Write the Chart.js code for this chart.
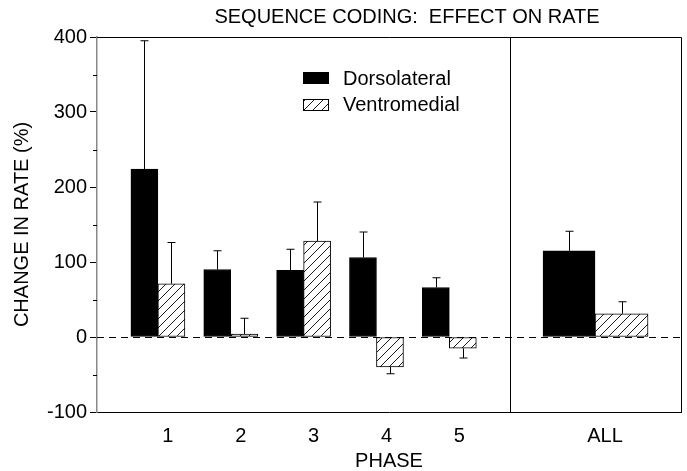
<!DOCTYPE html>
<html>
<head>
<meta charset="utf-8">
<script src="https://cdn.jsdelivr.net/npm/chart.js@4/dist/chart.umd.min.js"></script>
<style>
  html, body { margin: 0; padding: 0; background: #fff; }
  #wrap { width: 687px; height: 471px; }
</style>
</head>
<body>
<div id="wrap"><canvas id="chart"></canvas></div>
<script>
// values (% change in rate, mean + SEM)
const phaseLabels = ['1', '2', '3', '4', '5'];
const allLabel = 'ALL';
const dorsoPhase = [224, 90, 89, 106, 66];
const dorsoPhaseErr = [171, 25, 28, 34, 13];
const ventroPhase = [71, 4, 128, -40, -15];
const ventroPhaseErr = [55, 21, 52, 9, 13];
const dorsoAll = 115;
const dorsoAllErr = 26;
const ventroAll = 31;
const ventroAllErr = 16;
const yTicks = [-100, 0, 100, 200, 300, 400];

const FONT = 'Liberation Sans, Arial, sans-serif';
const allPos = phaseLabels.length + 2; // one empty slot before ALL

function hatch() {
  const c = document.createElement('canvas');
  c.width = 9; c.height = 9;
  const g = c.getContext('2d');
  g.fillStyle = '#fff';
  g.fillRect(0, 0, 9, 9);
  g.strokeStyle = '#000';
  g.lineWidth = 0.9;
  g.beginPath();
  g.moveTo(0, 9); g.lineTo(9, 0);
  g.moveTo(-1, 1); g.lineTo(1, -1);
  g.moveTo(8, 10); g.lineTo(10, 8);
  g.stroke();
  return g.createPattern(c, 'repeat');
}
const hatchFill = hatch();

// phase datasets leave ALL empty, ALL datasets leave phases empty
const phasePts = vals => vals.map((v, i) => ({ x: i + 1, y: v })).concat([{ x: allPos, y: null }]);
const allPts = v => phaseLabels.map((l, i) => ({ x: i + 1, y: null })).concat([{ x: allPos, y: v }]);

const extras = {
  id: 'extras',
  beforeDatasetsDraw(chart) {
    const { ctx, chartArea: a, scales: { y } } = chart;
    const y0 = Math.round(y.getPixelForValue(0)) + 0.5;
    ctx.save();
    ctx.strokeStyle = '#000';
    ctx.lineWidth = 1;
    ctx.setLineDash([7, 5]);
    ctx.beginPath();
    ctx.moveTo(a.left, y0);
    ctx.lineTo(a.right, y0);
    ctx.stroke();
    ctx.restore();
  },
  afterDatasetsDraw(chart) {
    const { ctx, chartArea: a, scales: { y } } = chart;
    ctx.save();
    ctx.strokeStyle = '#000';
    ctx.lineWidth = 1;
    // short minor ticks on the y axis
    ctx.beginPath();
    y.ticks.forEach(t => {
      if (yTicks.includes(t.value)) return;
      const py = Math.round(y.getPixelForValue(t.value)) + 0.5;
      ctx.moveTo(a.left - 4, py);
      ctx.lineTo(a.left, py);
    });
    ctx.stroke();
    // error bars
    chart.data.datasets.forEach((ds, di) => {
      const meta = chart.getDatasetMeta(di);
      meta.data.forEach((bar, i) => {
        const v = ds.data[i].y;
        if (v === null) return;
        const e = ds.errors[i];
        const tip = y.getPixelForValue(v >= 0 ? v + e : v - e);
        const x = Math.round(bar.x) + 0.5;
        ctx.beginPath();
        ctx.moveTo(x, bar.y);
        ctx.lineTo(x, tip);
        ctx.moveTo(x - 4, tip);
        ctx.lineTo(x + 4, tip);
        ctx.stroke();
      });
    });
    // frame and divider between phases and ALL
    const lastPhase = chart.getDatasetMeta(1).data[phaseLabels.length - 1];
    const firstAll = chart.getDatasetMeta(2).data[phaseLabels.length];
    const divX = Math.round((lastPhase.x + lastPhase.width / 2 + firstAll.x - firstAll.width / 2) / 2) + 0.5;
    ctx.beginPath();
    ctx.moveTo(a.left, a.top + 0.5);
    ctx.lineTo(a.right + 0.5, a.top + 0.5);
    ctx.lineTo(a.right + 0.5, a.bottom);
    ctx.moveTo(divX, a.top);
    ctx.lineTo(divX, a.bottom);
    ctx.stroke();

    // title
    ctx.fillStyle = '#000';
    ctx.font = '20px ' + FONT;
    ctx.textAlign = 'center';
    ctx.textBaseline = 'middle';
    ctx.fillText('SEQUENCE CODING:  EFFECT ON RATE', 407, 17);

    // legend
    ctx.textAlign = 'left';
    ctx.fillRect(303, 72, 26, 12);
    ctx.fillText('Dorsolateral', 343, 79);
    ctx.fillStyle = hatchFill;
    ctx.fillRect(303, 99, 26, 12);
    ctx.strokeRect(303.5, 99.5, 25, 11);
    ctx.fillStyle = '#000';
    ctx.fillText('Ventromedial', 343, 105);
    ctx.restore();
  }
};

const common = { borderColor: '#000', borderWidth: 1, borderSkipped: false, skipNull: true };

new Chart(document.getElementById('chart'), {
  type: 'bar',
  data: {
    datasets: [
      { ...common, label: 'Dorsolateral', data: phasePts(dorsoPhase), errors: dorsoPhaseErr,
        backgroundColor: '#000', barThickness: 27 },
      { ...common, label: 'Ventromedial', data: phasePts(ventroPhase), errors: ventroPhaseErr,
        backgroundColor: hatchFill, barThickness: 27 },
      { ...common, label: 'Dorsolateral ALL', data: allPts(dorsoAll), errors: [0, 0, 0, 0, 0, dorsoAllErr],
        backgroundColor: '#000', barThickness: 52 },
      { ...common, label: 'Ventromedial ALL', data: allPts(ventroAll), errors: [0, 0, 0, 0, 0, ventroAllErr],
        backgroundColor: hatchFill, barThickness: 53 }
    ]
  },
  options: {
    responsive: true,
    maintainAspectRatio: false,
    animation: false,
    layout: { padding: { top: 37, right: 6, left: 0, bottom: 0 } },
    plugins: { legend: { display: false }, tooltip: { enabled: false } },
    scales: {
      x: {
        type: 'linear',
        min: 0.164,
        max: 8.18,
        offset: false,
        grid: { display: false },
        border: { color: '#000', width: 1 },
        afterBuildTicks: s => {
          s.ticks = phaseLabels.map((l, i) => ({ value: i + 1 })).concat([{ value: allPos }]);
        },
        ticks: {
          callback: v => v === allPos ? allLabel : phaseLabels[v - 1],
          autoSkip: false, maxRotation: 0, labelOffset: 10, padding: 4,
          color: '#000', font: { family: FONT, size: 20 }
        },
        title: { display: true, text: 'PHASE', color: '#000',
          font: { family: FONT, size: 20, lineHeight: 1 }, padding: { top: 0, bottom: 0 } },
        afterFit: s => { s.height = 59; }
      },
      y: {
        min: -100,
        max: 400,
        ticks: {
          stepSize: 50,
          callback: v => yTicks.includes(v) ? v : '',
          autoSkip: false, padding: 3,
          color: '#000', font: { family: FONT, size: 20 }
        },
        grid: {
          drawOnChartArea: false, tickLength: 7,
          tickColor: c => yTicks.includes(c.tick && c.tick.value) ? '#000' : 'rgba(0,0,0,0)'
        },
        border: { color: '#888', width: 1.5 },
        title: { display: true, text: 'CHANGE IN RATE (%)', color: '#000',
          font: { family: FONT, size: 20, lineHeight: 1 }, padding: { top: 12, bottom: 0 } },
        afterFit: s => { s.width = 97; }
      }
    }
  },
  plugins: [extras]
});
</script>
</body>
</html>
